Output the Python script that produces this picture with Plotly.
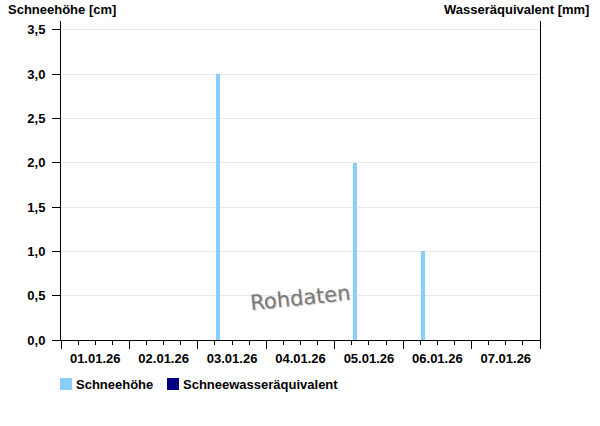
import plotly.graph_objects as go

# Data
dates = ["2026-01-03 07:00", "2026-01-05 07:00", "2026-01-06 07:00"]
schneehoehe = [3.0, 2.0, 1.0]
swe_dates = ["2026-01-03 07:00"]
swe_values = [None]
y_ticks = [0.0, 0.5, 1.0, 1.5, 2.0, 2.5, 3.0, 3.5]
legend_names = ["Schneehöhe", "Schneewasseräquivalent"]
colors = ["#87CEFA", "#000080"]

font_family = "Liberation Sans, Arial, sans-serif"
bold13 = dict(family=font_family, size=13, color="#000", weight="bold")

W, H = 600, 426
L, R, T, B = 61, 60, 21, 86
PW, PH = W - L - R, H - T - B
OX, OY = L, T + PH  # page px of plot left / bottom


def px(x):
    return (x - OX) / PW


def py(y):
    return (OY - y) / PH


fig = go.Figure()
fig.add_trace(go.Bar(
    x=dates, y=schneehoehe, name=legend_names[0],
    marker=dict(color=colors[0], line=dict(width=0)),
    width=1.4 * 3600 * 1000,
))
fig.add_trace(go.Bar(
    x=swe_dates, y=swe_values, name=legend_names[1],
    marker=dict(color=colors[1], line=dict(width=0)),
    yaxis="y2",
))

shapes = []
annotations = [
    dict(text="Schneehöhe [cm]", xref="paper", yref="paper", x=px(6), y=py(9.5),
         xanchor="left", yanchor="middle", showarrow=False, font=bold13),
    dict(text="Wasseräquivalent [mm]", xref="paper", yref="paper", x=px(591), y=py(9.5),
         xanchor="right", yanchor="middle", showarrow=False, font=bold13),
    dict(text="Rohdaten", xref="paper", yref="paper", x=px(300), y=py(317),
         showarrow=False, textangle=-6,
         font=dict(family="DejaVu Sans, sans-serif", size=21, color="#7a7a7a",
                   shadow="1px 1px 1px #c8c8c8")),
]
for name, col, sx, tx in zip(legend_names, colors, [60, 167], [74, 181]):
    shapes.append(dict(type="rect", xref="paper", yref="paper",
                       x0=px(sx), x1=px(sx + 12), y0=py(390), y1=py(378),
                       fillcolor=col, line=dict(width=0)))
    annotations.append(dict(text=name, xref="paper", yref="paper", x=px(tx), y=py(384),
                            xanchor="left", yanchor="middle", showarrow=False, font=bold13))

fig.update_layout(
    width=W, height=H,
    margin=dict(l=L, r=R, t=T, b=B, autoexpand=False),
    paper_bgcolor="white", plot_bgcolor="white",
    separators=",.",
    showlegend=False,
    hovermode=False,
    xaxis=dict(
        type="date",
        range=["2026-01-01 00:00", "2026-01-08 00:00"],
        dtick=86400000, tick0="2026-01-01",
        tickformat="%d.%m.%y", ticklabelmode="period",
        ticks="outside", ticklen=8, tickcolor="#000", tickwidth=1,
        ticklabelstandoff=-2,
        minor=dict(dtick=6 * 3600 * 1000, ticks="outside", ticklen=4, tickcolor="#000", showgrid=False),
        showline=True, linecolor="#000", linewidth=1,
        showgrid=False, zeroline=False,
        tickfont=bold13,
    ),
    yaxis=dict(
        range=[0, 3.6], tickvals=y_ticks, tickformat=".1f",
        ticks="outside", ticklen=8, tickcolor="#000", ticklabelstandoff=4,
        showline=True, linecolor="#000", linewidth=1,
        showgrid=True, gridcolor="#e8e8e8", zeroline=False,
        tickfont=bold13,
    ),
    yaxis2=dict(
        overlaying="y", side="right", range=[0, 3.6],
        showline=True, linecolor="#000", linewidth=1,
        showticklabels=False, showgrid=False, zeroline=False, ticks="",
    ),
    bargap=0,
    shapes=shapes,
    annotations=annotations,
)

fig.write_html("out.html", config={"displayModeBar": False, "staticPlot": True},
               post_script="document.body.style.margin='0px';document.body.style.overflow='hidden';")
